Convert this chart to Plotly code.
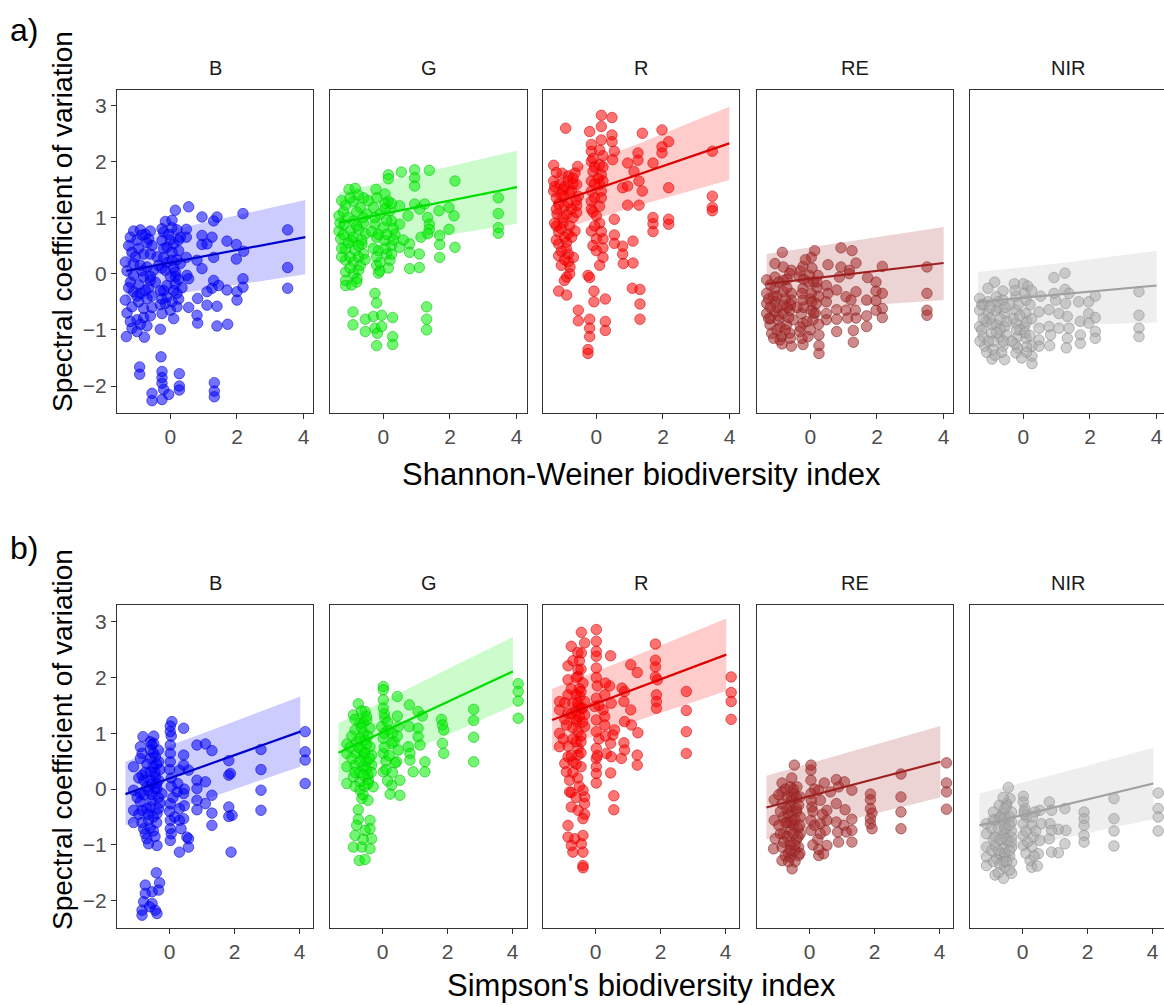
import plotly.graph_objects as go

bands = ["B", "G", "R", "RE", "NIR"]

# ---------------- Row a: Shannon-Weiner index (x, y) ----------------
shannon_B = [(0.15,1.13),(0.55,1.19),(0.95,1.01),(1.4,1.01),(1.3,0.94),(2.18,1.07),(-0.15,0.93),(-1.1,0.76),(-0.9,0.78),(-0.6,0.76),
    (-0.85,0.69),(-0.65,0.62),(-0.2,0.74),(0.05,0.82),(0.2,0.78),(0.48,0.79),(0.48,0.65),(0.95,0.68),(1.25,0.65),(0.95,0.52),
    (1.1,0.53),(1.7,0.58),(1.98,0.52),(2.2,0.4),(1.98,0.26),(3.52,0.78),(3.52,0.11),(3.52,-0.26),(-1.15,0.38),(-0.8,0.35),
    (-0.6,0.35),(-1.35,0.21),(-1.1,0.18),(-0.9,0.15),(-0.7,0.12),(-0.5,0.06),(-0.25,0.59),(-0.1,0.47),(0.1,0.53),(0.25,0.41),
    (-0.2,0.29),(0.05,0.24),(0.3,0.18),(0.48,0.29),(0.8,0.24),(1.3,0.29),(0.95,0.09),(-0.15,0.06),(0.15,0.03),(0.5,-0.03),
    (0.55,-0.09),(-1.1,-0.03),(-0.8,-0.06),(-0.6,-0.12),(1.3,-0.12),(1.45,-0.21),(1.25,-0.26),(1.7,-0.29),(2.0,-0.32),(2.18,-0.09),
    (2.18,-0.24),(1.1,-0.32),(-1.1,-0.32),(-1.35,-0.47),(-0.9,-0.35),(-0.7,-0.44),(-0.1,-0.21),(0.15,-0.18),(-0.1,-0.41),(0.2,-0.35),
    (-0.15,-0.53),(0.05,-0.5),(-1.15,-0.59),(-0.8,-0.62),(-0.8,-0.78),(-1.0,-0.82),(-0.7,-0.93),(-1.15,-0.97),(-1.32,-1.12),(-1.0,-1.03),
    (-0.78,-1.13),(-0.3,-0.99),(0.2,-0.59),(0.0,-0.65),(0.55,-0.6),(0.82,-0.44),(0.8,-0.74),(0.82,-0.88),(1.1,-0.56),(1.4,-0.58),
    (1.4,-0.93),(1.72,-0.9),(2.0,-0.47),(-0.25,-0.71),(-0.92,-1.66),(-0.92,-1.79),(-0.28,-1.48),(-0.25,-1.74),(-0.25,-1.85),(-0.25,-1.95),
    (-0.2,-2.06),(-0.05,-2.15),(-0.25,-2.24),(-0.55,-2.13),(-0.55,-2.26),(0.27,-1.78),(0.27,-2.0),(0.27,-2.07),(1.32,-1.94),(1.32,-2.09),
    (1.32,-2.19),(-1.25,0.5),(-0.95,0.45),(-0.7,0.55),(-0.4,0.3),(-1.2,-0.15),(-0.95,-0.2),(-0.65,-0.25),(-0.35,0.15),(-0.3,-0.3),
    (0.1,0.1),(0.15,-0.05),(0.3,0.65),(-0.05,0.7),(0.35,-0.25),(-1.3,-0.7),(-0.55,-0.6),(-0.3,-0.55),(0.1,-0.8),(-0.95,-0.5),(-0.45,-0.15),
    (-1.2,0.65),(-1.0,0.6),(-0.75,0.7),(-0.55,0.5),(-1.3,0.05),(-1.05,0.3),(-0.85,0.05),(-0.6,-0.05),(-1.25,-0.25),(-1.0,-0.4),
    (-0.75,-0.3),(-0.55,-0.4),(-1.2,-0.85),(-0.9,-0.9),(-0.6,-0.75),(-0.25,0.8),(0.0,0.6),(0.25,0.6),(-0.2,0.45),(0.05,0.38),
    (0.2,0.25),(-0.25,0.1),(0.0,-0.05),(0.25,-0.1),(-0.2,-0.3),(0.1,-0.3),(-0.25,-0.45),(0.25,-0.45),(0.05,0.95),(-0.1,0.2)]

shannon_G = [(0.15,1.76),(0.15,1.69),(0.54,1.81),(0.94,1.85),(0.94,1.71),(0.94,1.56),(1.38,1.84),(2.15,1.65),(-1.03,1.5),(-0.84,1.52),
    (-0.59,1.35),(-0.22,1.5),(0.05,1.42),(0.15,1.29),(-1.33,1.03),(-1.13,1.22),(-0.89,1.29),(-0.69,1.18),(-0.49,1.06),(-1.33,0.76),
    (-1.18,0.88),(-0.89,0.94),(-0.99,0.76),(-0.74,0.79),(-0.54,0.71),(-1.28,0.62),(-0.94,0.59),(-0.64,0.53),(-1.13,0.44),(-0.84,0.41),
    (-0.59,0.35),(-1.13,0.24),(-0.89,0.21),(-0.69,0.15),(-1.13,0.03),(-0.89,0.0),(-0.74,0.06),(-1.13,-0.12),(-1.13,-0.21),(-0.79,-0.09),
    (-0.3,1.18),(-0.1,1.06),(0.2,1.12),(0.49,1.21),(-0.25,0.88),(0.0,0.82),(0.25,0.94),(0.49,0.88),(-0.2,0.65),(0.05,0.59),
    (0.25,0.5),(0.49,0.47),(-0.15,0.41),(0.1,0.35),(-0.2,0.15),(-0.15,0.01),(0.2,0.24),(0.94,1.24),(1.24,1.24),(1.09,1.15),
    (0.74,1.03),(1.33,1.0),(1.38,0.88),(1.38,0.79),(1.33,0.71),(1.13,0.65),(0.79,0.53),(0.79,0.38),(1.08,0.35),(0.79,0.09),
    (1.08,0.11),(1.67,1.12),(1.97,1.18),(2.12,1.03),(1.97,0.79),(1.69,0.68),(1.69,0.52),(1.69,0.29),(2.15,0.47),(3.45,1.35),
    (3.45,1.07),(3.45,0.82),(3.45,0.72),(-0.25,-0.35),(-0.2,-0.52),(-0.91,-0.68),(-0.91,-0.91),(-0.54,-0.81),(-0.3,-0.76),(-0.05,-0.74),
    (0.28,-0.78),(-0.54,-1.03),(-0.25,-0.97),(-0.18,-1.06),(-0.05,-0.94),(-0.2,-1.28),(0.28,-1.12),(0.28,-1.26),(1.3,-0.59),(1.3,-0.81),
    (1.3,-1.0),(-1.2,1.1),(-0.8,1.1),(-1.05,0.55),(-0.75,0.3),(-0.95,-0.2),(-0.6,0.9),(-0.35,0.75),(-0.1,0.2),(0.35,0.7),
    (-0.3,0.45),(-1.25,0.3),(0.6,0.6),(0.05,1.25),(-0.45,1.3),
    (-1.25,1.3),(-1.0,1.35),(-0.75,1.4),(-1.3,0.9),(-1.05,1.0),(-0.8,0.85),(-0.6,1.0),(-1.2,0.7),(-0.9,0.65),(-0.65,0.6),
    (-1.25,0.45),(-1.0,0.3),(-0.75,0.5),(-0.55,0.25),(-1.0,0.1),(-0.8,-0.15),(-0.2,1.35),(0.05,1.15),(0.25,1.25),(-0.25,1.0),
    (0.1,0.95),(0.3,0.8),(-0.15,0.7),(0.1,0.7),(0.3,0.6),(-0.2,0.3),(0.05,0.45),(0.25,0.35),(-0.1,0.05),(0.15,0.1)]

shannon_R = [(-0.92,2.59),(0.15,2.82),(0.47,2.78),(-0.2,2.53),(0.15,2.62),(0.47,2.47),(0.47,2.35),(0.15,2.38),(1.38,2.5),(1.97,2.56),
    (2.17,2.35),(1.97,2.26),(1.97,2.15),(-0.15,2.18),(0.54,2.18),(0.49,2.03),(1.25,2.15),(1.25,2.02),(0.94,1.97),(1.7,1.97),
    (3.48,2.18),(-1.28,1.93),(-0.56,1.91),(-1.03,1.79),(-0.84,1.74),(-0.64,1.79),(-1.28,1.65),(-1.08,1.59),(-0.84,1.65),(-0.59,1.59),
    (-1.28,1.47),(-0.98,1.38),(-0.74,1.47),(-0.54,1.38),(-1.13,1.24),(-0.84,1.26),(-0.59,1.21),(-1.18,1.06),(-0.89,1.06),(-0.59,1.09),
    (-0.15,2.0),(0.1,1.94),(-0.1,1.82),(0.15,1.76),(-0.15,1.65),(0.1,1.59),(0.2,1.65),(-0.15,1.47),(0.15,1.47),(-0.15,1.29),
    (0.0,1.03),(-0.15,1.15),(0.79,1.53),(0.94,1.56),(1.13,1.82),(1.28,1.65),(1.38,1.47),(0.94,1.22),(1.28,1.22),(2.17,1.53),
    (1.7,1.0),(1.7,0.89),(1.7,0.75),(2.17,0.97),(2.17,0.88),(3.48,1.38),(3.48,1.18),(3.48,1.12),(0.54,0.97),(-1.13,0.74),
    (-0.84,0.71),(-0.64,0.76),(-1.13,0.53),(-0.89,0.56),(-0.74,0.65),(-1.13,0.32),(-0.84,0.35),(-0.84,0.21),(-0.79,0.12),(-0.69,0.29),
    (-0.15,0.76),(0.0,0.62),(0.2,0.62),(0.0,0.41),(0.2,0.46),(0.2,0.29),(0.54,0.69),(0.54,0.54),(0.79,0.49),(0.79,0.35),
    (0.81,0.18),(1.1,0.58),(1.1,0.19),(-0.96,-0.12),(-0.89,-0.06),(-1.13,-0.31),(-0.89,-0.38),(-0.25,-0.03),(-0.2,-0.07),(-0.07,-0.31),
    (-0.07,-0.5),(0.27,-0.45),(-0.54,-0.65),(-0.54,-0.84),(-0.2,-0.81),(-0.2,-0.97),(-0.2,-1.12),(-0.25,-1.35),(-0.25,-1.42),(0.27,-0.85),
    (0.27,-1.01),(1.08,-0.26),(1.31,-0.28),(1.31,-0.54),(1.31,-0.81),(-1.0,1.5),(-0.7,1.6),(-1.2,1.35),(-0.95,1.2),(-0.7,1.0),
    (-1.0,0.9),(-1.2,0.85),(-0.05,1.9),(0.05,1.7),(-0.05,1.35),(0.1,1.2),(0.2,2.1),(-0.9,0.45),(-1.05,0.15),
    (-1.2,1.8),(-0.95,1.55),(-0.7,1.7),(-1.25,1.55),(-1.05,1.4),(-0.8,1.45),(-0.6,1.3),(-1.2,1.15),(-1.0,1.0),(-0.75,1.15),
    (-1.25,0.9),(-1.05,0.8),(-0.8,0.85),(-1.2,0.6),(-0.95,0.65),(-1.05,0.4),(-0.95,0.25),(-0.8,0.0),(-0.15,2.3),(0.1,2.2),
    (-0.1,2.05),(0.2,1.9),(-0.05,1.6),(0.15,1.35),(-0.1,1.1),(0.1,0.9),(-0.05,0.85),(0.15,0.75),(-0.1,0.5),(0.1,0.15)]

shannon_RE = [(-0.84,0.38),(0.13,0.41),(0.92,0.46),(1.25,0.41),(0.03,0.29),(0.53,0.16),(1.37,0.19),(-1.06,0.18),(-0.81,0.12),(-0.57,0.06),
    (-0.22,0.13),(0.92,0.12),(1.17,0.06),(2.16,0.13),(3.5,0.12),(3.5,-0.35),(3.5,-0.65),(3.5,-0.74),(-1.31,-0.11),(-1.06,-0.06),
    (-0.81,-0.12),(-0.62,0.0),(-0.32,-0.06),(-0.02,-0.03),(0.23,-0.03),(0.87,-0.06),(1.17,0.0),(1.72,-0.07),(1.97,-0.15),(0.48,-0.21),
    (-1.31,-0.35),(-1.06,-0.26),(-0.81,-0.32),(-0.57,-0.35),(-0.22,-0.26),(0.03,-0.35),(0.53,-0.35),(0.79,-0.29),(1.07,-0.41),(1.37,-0.32),
    (1.97,-0.31),(2.16,-0.35),(-1.31,-0.53),(-1.06,-0.5),(-0.81,-0.56),(-0.57,-0.47),(-0.22,-0.47),(0.18,-0.53),(0.48,-0.5),(1.22,-0.47),
    (1.69,-0.47),(1.97,-0.48),(-1.31,-0.71),(-1.06,-0.68),(-0.81,-0.71),(-0.62,-0.65),(-0.27,-0.71),(0.03,-0.65),(0.48,-0.71),(0.79,-0.64),
    (1.07,-0.65),(1.35,-0.65),(2.16,-0.62),(1.97,-0.65),(-1.21,-0.91),(-0.96,-0.82),(-0.71,-0.91),(-0.52,-0.82),(-0.22,-0.88),(0.08,-0.82),
    (0.48,-0.82),(0.79,-0.81),(1.12,-0.79),(1.37,-0.79),(1.69,-0.75),(2.16,-0.78),(-1.16,-1.06),(-0.86,-1.12),(-0.62,-1.06),(-0.32,-1.03),
    (-0.07,-1.12),(0.79,-1.03),(1.29,-1.01),(1.69,-0.94),(-0.91,-1.18),(-0.57,-1.29),(-0.22,-1.26),(0.26,-1.09),(0.26,-1.28),(0.26,-1.42),
    (1.29,-1.22),(-1.1,-0.4),(-0.9,-0.95),(-0.7,-0.25),(-0.4,-0.6),(-0.1,-0.85),(0.1,-0.15),(-0.3,-0.95),(0.0,-0.45),(-1.2,-0.8),
    (-0.65,-0.78),(-0.2,-0.1),(0.15,-0.7),(-1.0,-0.6),
    (-1.2,-0.2),(-0.95,-0.15),(-0.7,-0.1),(-1.25,-0.45),(-1.0,-0.4),(-0.75,-0.45),(-0.6,-0.55),(-1.2,-0.6),(-0.95,-0.75),(-0.7,-0.6),
    (-1.25,-0.8),(-1.0,-1.0),(-0.75,-1.0),(-0.6,-1.15),(-0.85,-1.25),(-1.1,-1.15),(-0.3,0.05),(-0.05,-0.15),(0.2,-0.25),(-0.25,-0.35),
    (0.05,-0.5),(0.25,-0.4),(-0.2,-0.6),(0.1,-0.7),(0.25,-0.9),(-0.25,-1.15),(0.0,-1.0),(0.2,-0.15),(-0.15,0.25),(0.05,0.1)]

shannon_NIR = [(-0.86,-0.15),(-0.27,-0.18),(0.0,-0.18),(0.92,-0.07),(1.25,0.01),(-1.06,-0.26),(-0.61,-0.31),(0.13,-0.22),(0.52,-0.4),(0.92,-0.35),
    (1.25,-0.28),(1.37,-0.35),(2.16,-0.4),(3.47,-0.32),(3.47,-0.74),(3.47,-0.97),(3.47,-1.12),(-1.31,-0.44),(-1.06,-0.5),(-0.81,-0.41),
    (-0.61,-0.47),(-0.22,-0.4),(0.08,-0.47),(0.97,-0.47),(1.27,-0.53),(1.66,-0.5),(1.96,-0.5),(-1.31,-0.65),(-1.06,-0.71),(-0.81,-0.65),
    (-0.56,-0.71),(-0.22,-0.65),(0.08,-0.71),(0.47,-0.68),(0.77,-0.64),(1.07,-0.71),(1.32,-0.76),(1.96,-0.71),(2.16,-0.78),(-1.31,-0.94),
    (-1.11,-0.85),(-0.81,-0.91),(-0.56,-0.94),(-0.22,-0.88),(0.03,-0.94),(0.47,-0.97),(0.77,-0.94),(1.07,-0.97),(1.37,-0.97),(1.71,-0.85),
    (1.96,-0.88),(-1.21,-1.12),(-0.96,-1.06),(-0.71,-1.12),(-0.51,-1.09),(-0.17,-1.12),(0.08,-1.15),(0.47,-1.18),(0.82,-1.09),(1.32,-1.15),
    (1.71,-1.09),(2.16,-1.03),(2.16,-1.15),(-1.16,-1.29),(-0.91,-1.35),(-0.61,-1.29),(-0.17,-1.32),(0.26,-1.29),(0.47,-1.29),(0.79,-1.28),
    (1.29,-1.32),(1.71,-1.24),(-0.94,-1.52),(-0.56,-1.53),(-0.22,-1.41),(0.26,-1.47),(0.26,-1.6),(-1.0,-0.8),(-0.7,-1.0),(-0.9,-1.2),
    (-0.3,-0.8),(-0.1,-1.0),(-0.4,-0.55),(-1.2,-0.55),(0.1,-1.3),(-0.75,-0.6),(-0.35,-1.2),
    (-1.25,-0.55),(-1.0,-0.6),(-0.75,-0.5),(-1.2,-0.8),(-0.95,-0.9),(-0.7,-0.8),(-0.55,-0.6),(-1.25,-1.0),(-1.05,-1.2),(-0.8,-1.05),
    (-0.6,-1.2),(-1.1,-1.4),(-0.85,-1.45),(-0.65,-1.4),(-1.3,-1.2),(-0.5,-0.85),(-0.25,-0.3),(0.05,-0.35),(0.2,-0.55),(-0.15,-0.55),
    (0.1,-0.85),(0.25,-0.8),(-0.2,-1.0),(0.05,-1.05),(0.2,-1.1),(-0.25,-1.25),(0.1,-1.4),(-0.05,-1.5),(0.25,-0.3),(-0.1,-0.75)]

# ---------------- Row b: Simpson's index (x, y) ----------------
simpson_B = [(0.07,1.21),(0.02,1.13),(0.02,1.03),(0.43,1.09),(-0.82,0.94),(-0.49,0.95),(-0.49,0.82),(-0.9,0.76),(-0.85,0.64),(-0.59,0.7),
    (-0.44,0.58),(-0.34,0.49),(-0.59,0.55),(0.02,0.79),(0.02,0.64),(0.02,0.49),(0.43,0.61),(0.84,0.79),(1.1,0.81),(1.3,0.69),
    (0.43,0.43),(0.58,0.34),(0.3,0.34),(-1.11,0.4),(-0.85,0.25),(-0.59,0.31),(-0.44,0.22),(-0.8,0.16),(-0.54,0.1),(-0.34,0.16),
    (-1.11,-0.02),(-0.9,-0.08),(-0.65,-0.02),(-0.39,0.01),(-0.24,-0.08),(0.23,-0.05),(0.43,-0.08),(0.84,0.16),(0.84,0.01),(1.1,0.13),
    (1.3,-0.11),(1.82,0.51),(1.87,0.28),(1.82,0.25),(2.81,0.71),(2.81,0.35),(2.81,-0.02),(2.81,-0.38),(4.17,1.03),(4.17,0.67),
    (4.17,0.52),(4.17,0.1),(-1.11,-0.38),(-0.9,-0.23),(-0.85,-0.38),(-0.59,-0.32),(-0.39,-0.44),(-0.65,-0.56),(-1.11,-0.6),(-0.8,-0.71),
    (-0.75,-0.8),(-0.7,-0.89),(-0.39,-1.01),(-0.65,-0.98),(0.02,-0.26),(0.02,-0.56),(0.02,-0.71),(0.02,-0.92),(0.3,-0.56),(0.35,-0.71),
    (0.43,-0.53),(0.53,-0.86),(0.3,-1.13),(0.58,-1.04),(0.58,-0.89),(0.84,-0.2),(0.84,-0.37),(1.1,-0.26),(1.3,-0.43),(1.3,-0.65),
    (1.82,-0.32),(1.82,-0.49),(1.92,-0.47),(1.89,-1.13),(-0.41,-1.5),(-0.31,-1.68),(-0.75,-1.72),(-0.75,-1.87),(-0.54,-1.84),(-0.34,-1.81),
    (-0.8,-2.02),(-0.54,-2.05),(-0.44,-2.17),(-0.39,-2.23),(-0.85,-2.17),(-0.85,-2.26),(-0.62,-2.11),(-0.5,0.4),(-0.45,0.0),(-0.55,-0.2),
    (-0.4,-0.6),(-0.6,0.85),(-0.35,0.7),(-0.5,-0.75),(-0.3,-0.25),(-0.7,0.05),(-0.45,0.3),(-0.3,0.35),(0.05,0.2),(0.0,-0.4),(-0.65,-0.45),
    (-0.9,0.55),(-0.7,0.45),(-0.5,0.65),(-0.95,0.2),(-0.75,0.3),(-0.6,0.15),(-0.4,0.1),(-1.0,-0.15),(-0.8,-0.1),(-0.55,-0.1),
    (-0.35,-0.15),(-0.95,-0.45),(-0.7,-0.35),(-0.5,-0.5),(-0.35,-0.35),(-0.85,-0.6),(-0.6,-0.7),(-0.45,-0.85),(-0.55,0.8),(-0.4,0.45),
    (0.05,0.95),(0.0,0.35),(0.05,0.05),(0.1,-0.15),(0.25,0.1),(0.3,-0.35),(0.15,-0.5),(0.45,-0.3),(0.05,-0.8),(0.45,0.0)]

simpson_G = [(0.02,1.84),(0.02,1.78),(0.45,1.66),(-0.75,1.53),(-0.9,1.33),(-0.54,1.39),(0.02,1.6),(0.02,1.45),(0.82,1.51),(1.09,1.39),
    (1.22,1.31),(0.45,1.31),(0.07,1.27),(-0.7,1.18),(-0.49,1.24),(-0.85,1.06),(-0.59,1.0),(-0.39,1.09),(-0.03,1.12),(0.17,1.06),
    (0.48,1.12),(0.82,1.12),(1.09,1.09),(1.81,1.25),(1.84,1.15),(1.88,1.06),(2.8,1.43),(2.8,1.23),(2.8,0.93),(2.8,0.49),
    (4.17,1.89),(4.17,1.75),(4.17,1.58),(4.17,1.27),(-1.1,0.81),(-0.8,0.85),(-0.54,0.88),(-0.39,0.76),(0.02,0.91),(0.28,0.82),
    (0.48,0.7),(0.79,0.76),(1.09,0.94),(1.15,0.79),(1.84,0.82),(1.88,0.64),(-1.1,0.64),(-0.8,0.64),(-0.59,0.58),(-0.34,0.61),
    (0.02,0.64),(0.43,0.49),(0.84,0.64),(0.84,0.52),(1.3,0.49),(1.3,0.31),(0.94,0.31),(-1.1,0.4),(-0.85,0.43),(-0.59,0.4),
    (-0.34,0.43),(0.02,0.31),(0.38,0.47),(-1.1,0.1),(-0.9,0.22),(-0.7,0.13),(-0.44,0.16),(-0.29,0.04),(-0.7,-0.02),(-0.64,-0.17),
    (0.28,0.07),(0.53,0.16),(0.23,-0.09),(0.53,-0.11),(-0.75,-0.37),(-0.75,-0.54),(-0.39,-0.56),(-0.39,-0.71),(-0.85,-0.83),(-0.54,-0.74),
    (-0.34,-0.89),(-0.9,-1.04),(-0.64,-1.04),(-0.39,-1.07),(-0.72,-1.28),(-0.54,-1.26),(-0.65,0.7),(-0.6,1.2),(-0.5,0.5),(-0.45,0.95),
    (-0.7,0.3),(-0.55,0.05),(-0.65,1.4),(-0.45,0.25),(0.05,1.0),(0.1,0.5),(-0.6,-0.9),(-0.8,-0.65),
    (-0.85,1.25),(-0.65,1.1),(-0.5,1.3),(-0.95,0.95),(-0.7,0.9),(-0.5,0.8),(-1.0,0.75),(-0.75,0.75),(-0.55,0.65),(-0.4,0.55),
    (-0.95,0.55),(-0.7,0.5),(-0.5,0.35),(-0.35,0.3),(-0.85,0.3),(-0.6,0.25),(-0.45,0.1),(-0.85,0.05),(-0.6,-0.1),(-0.45,-0.2),
    (0.05,1.35),(0.15,1.2),(0.3,1.0),(0.05,0.75),(0.2,0.6),(0.35,0.85),(0.1,0.35),(0.3,0.3),(0.45,0.95),(0.15,0.15)]

simpson_R = [(-0.44,2.81),(0.02,2.86),(0.02,2.65),(-0.75,2.56),(-0.34,2.62),(-0.44,2.44),(0.02,2.47),(0.02,2.38),(0.46,2.39),(1.84,2.6),
    (1.84,2.31),(1.84,2.19),(-0.85,2.21),(-0.54,2.14),(0.02,2.17),(1.08,2.23),(1.28,2.09),(1.84,2.01),(1.9,1.96),(-0.85,1.96),
    (-0.54,2.02),(-0.39,1.9),(0.02,2.0),(0.43,1.85),(0.81,1.81),(0.89,1.75),(2.79,1.75),(4.17,2.01),(4.17,1.73),(4.17,1.57),
    (4.17,1.25),(-1.11,1.57),(-0.85,1.69),(-0.7,1.54),(-0.49,1.66),(-0.54,1.48),(-0.34,1.57),(0.02,1.63),(0.28,1.69),(0.48,1.54),
    (0.87,1.57),(1.87,1.69),(1.87,1.57),(1.87,1.45),(-1.11,1.42),(-0.85,1.36),(-0.59,1.39),(-0.34,1.33),(-0.03,1.48),(0.23,1.42),
    (0.28,1.3),(1.08,1.42),(2.79,1.41),(2.79,1.03),(2.79,0.64),(-0.9,1.15),(-0.59,1.21),(-0.34,1.12),(0.02,1.24),(0.28,1.15),
    (0.58,1.06),(0.89,1.21),(1.1,1.15),(1.3,1.01),(-1.11,1.0),(-0.54,1.03),(0.02,1.03),(0.53,0.97),(-1.11,0.76),(-0.85,0.77),
    (-0.54,0.73),(0.02,0.73),(0.33,0.64),(0.46,0.82),(0.87,0.83),(0.89,0.7),(-0.85,0.58),(-0.54,0.61),(0.02,0.55),(0.48,0.58),
    (0.79,0.55),(1.28,0.61),(1.28,0.43),(-0.95,0.46),(-0.7,0.49),(-0.9,0.31),(-0.8,0.16),(0.02,0.4),(0.02,0.28),(0.02,0.11),
    (0.46,0.29),(-0.8,-0.05),(-0.75,-0.06),(-0.39,-0.02),(-0.34,-0.14),(0.56,-0.12),(0.56,-0.37),(-0.75,-0.32),(-0.54,-0.38),(-0.34,-0.26),
    (-0.34,-0.45),(-0.39,-0.53),(-0.85,-0.65),(-0.85,-0.86),(-0.64,-0.89),(-0.39,-0.83),(-0.75,-1.01),(-0.44,-0.98),(-0.7,-1.13),(-0.39,-1.13),
    (-0.39,-1.37),(-0.39,-1.41),(-0.5,1.8),(-0.45,1.45),(-0.6,1.25),(-0.45,0.95),(-0.6,0.85),(-0.5,2.3),(-0.45,0.4),(-0.55,0.2),
    (-0.7,2.3),(-0.55,2.45),(-0.6,2.0),(-0.45,2.15),(-0.75,1.8),(-0.6,1.7),(-0.45,1.75),(-0.95,1.55),(-0.75,1.35),(-0.55,1.55),
    (-0.4,1.45),(-0.95,1.25),(-0.7,1.1),(-0.5,1.3),(-0.4,1.2),(-1.0,0.9),(-0.7,0.9),(-0.45,0.85),(-0.75,0.6),(-0.6,0.45),
    (-0.45,0.65),(-0.7,0.3),(-0.5,0.05),(-0.6,-0.15),(0.05,1.85),(0.1,1.5),(0.3,1.9),(0.1,0.9),(0.3,0.95),(0.05,0.6)]

simpson_RE = [(-0.47,0.43),(0.04,0.43),(0.04,0.34),(0.04,0.16),(-0.85,0.11),(-0.59,0.04),(-0.39,0.04),(0.45,0.11),(0.82,0.17),(1.07,0.13),
    (1.3,-0.02),(2.81,0.27),(4.21,0.47),(4.21,0.11),(4.21,-0.05),(4.21,-0.36),(-1.09,-0.19),(-0.85,-0.05),(-0.7,-0.14),(-0.49,-0.08),
    (-0.29,-0.14),(0.04,-0.08),(0.28,-0.02),(0.64,-0.05),(0.89,0.04),(1.87,-0.09),(1.87,-0.19),(2.81,-0.14),(2.81,-0.41),(2.81,-0.71),
    (-0.85,-0.26),(-0.59,-0.32),(-0.34,-0.29),(0.07,-0.32),(0.33,-0.2),(0.53,-0.38),(0.82,-0.26),(1.09,-0.37),(1.87,-0.35),(1.92,-0.43),
    (-1.09,-0.56),(-0.8,-0.5),(-0.54,-0.56),(-0.29,-0.5),(0.04,-0.56),(0.33,-0.62),(0.53,-0.56),(0.82,-0.59),(1.05,-0.65),(1.3,-0.54),
    (1.87,-0.53),(1.87,-0.62),(1.92,-0.71),(-1.06,-0.89),(-0.8,-0.8),(-0.59,-0.74),(-0.29,-0.8),(0.04,-0.74),(0.33,-0.8),(0.48,-0.74),
    (0.86,-0.77),(1.13,-0.77),(1.3,-0.74),(-1.11,-1.07),(-0.85,-1.04),(-0.59,-1.01),(-0.34,-1.04),(0.53,-1.01),(0.89,-0.95),(1.3,-0.95),
    (-0.85,-1.28),(-0.59,-1.22),(-0.34,-1.19),(-0.54,-1.43),(0.28,-1.19),(0.43,-1.16),(0.28,-1.08),(-0.65,-0.45),(-0.5,-0.65),(-0.4,-0.9),
    (-0.55,-0.2),(-0.45,-1.1),(-0.6,-0.95),(-0.4,-0.4),(-0.7,-0.6),(-0.5,0.0),(-0.35,-0.7),(-0.65,-1.15),(0.05,-0.2),(0.1,-1.0),
    (-0.95,-0.1),(-0.75,0.0),(-0.55,-0.15),(-0.4,-0.15),(-0.9,-0.4),(-0.7,-0.35),(-0.55,-0.4),(-0.4,-0.35),(-0.95,-0.65),(-0.75,-0.6),
    (-0.6,-0.6),(-0.45,-0.55),(-0.3,-0.65),(-0.9,-0.8),(-0.7,-0.85),(-0.5,-0.8),(-0.35,-0.85),(-0.8,-0.95),(-0.6,-1.1),(-0.45,-1.0),
    (-0.3,-1.15),(-0.75,-1.2),(-0.45,-1.3),(-0.65,-1.3),(-0.55,0.2),(0.1,-0.4),(0.15,-0.65),(0.25,-0.9),(0.4,-0.45),(0.15,0.0)]

simpson_NIR = [(-0.44,0.03),(-0.39,-0.17),(0.02,-0.13),(0.02,-0.23),(0.82,-0.23),(-0.72,-0.29),(-0.49,-0.26),(0.07,-0.35),(0.53,-0.38),(0.89,-0.38),
    (1.3,-0.35),(2.81,-0.17),(4.17,-0.07),(4.17,-0.35),(4.17,-0.5),(4.17,-0.75),(-0.9,-0.41),(-0.59,-0.44),(-0.34,-0.41),(0.12,-0.5),
    (0.38,-0.41),(1.89,-0.41),(1.89,-0.53),(2.81,-0.53),(-1.11,-0.62),(-0.85,-0.56),(-0.59,-0.62),(-0.34,-0.59),(0.02,-0.62),(0.28,-0.65),
    (0.58,-0.62),(0.84,-0.62),(1.1,-0.72),(1.33,-0.74),(1.89,-0.65),(2.81,-0.75),(-1.11,-0.8),(-0.85,-0.86),(-0.59,-0.8),(-0.34,-0.86),
    (0.02,-0.83),(0.33,-0.86),(0.53,-0.92),(0.82,-0.89),(0.89,-0.74),(1.3,-0.98),(1.89,-0.83),(1.89,-0.95),(2.81,-1.02),(-1.11,-1.04),
    (-0.85,-1.01),(-0.59,-1.07),(-0.34,-1.04),(0.02,-1.01),(0.28,-1.04),(0.48,-1.16),(0.89,-1.13),(1.1,-1.14),(-1.11,-1.22),(-0.8,-1.25),
    (-0.54,-1.22),(-0.34,-1.31),(0.23,-1.28),(0.28,-1.4),(0.45,-1.38),(-1.11,-1.37),(-0.85,-1.54),(-0.59,-1.6),(-0.34,-1.51),(-0.65,-0.5),
    (-0.5,-0.7),(-0.45,-0.95),(-0.7,-1.15),(-0.4,-1.2),(-0.55,-1.4),(-0.65,-0.9),(-0.5,-0.3),(-0.35,-0.75),(-0.6,-1.3),(0.05,-0.45),
    (-0.9,-0.55),(-0.7,-0.5),(-0.55,-0.5),(-0.4,-0.5),(-0.95,-0.7),(-0.75,-0.7),(-0.55,-0.7),(-0.4,-0.65),(-0.9,-0.9),(-0.7,-0.9),
    (-0.5,-0.9),(-0.35,-0.95),(-0.95,-1.1),(-0.75,-1.1),(-0.55,-1.15),(-0.4,-1.1),(-0.9,-1.3),(-0.7,-1.35),(-0.5,-1.3),(-0.4,-1.45),
    (-0.75,-1.5),(-0.55,-0.35),(-0.6,-0.15),(0.1,-0.75),(0.15,-0.95),(0.3,-0.5),(0.1,-1.15),(0.35,-1.2),(0.05,-0.4),(0.4,-0.75)]

# ---------------- Fitted lines (endpoints) and confidence ribbons (x, lo, hi) ----------------
shannon_fit = {
    "B":   [(-1.32, 0.05), (4.05, 0.65)],
    "G":   [(-1.33, 0.91), (4.01, 1.54)],
    "R":   [(-1.28, 1.25), (3.99, 2.32)],
    "RE":  [(-1.31, -0.18), (4.00, 0.19)],
    "NIR": [(-1.36, -0.50), (4.00, -0.21)],
}
shannon_ci = {
    "B":   [(-1.32, -0.50, 0.60), (1.3, -0.26, 0.94), (4.05, -0.01, 1.31)],
    "G":   [(-1.33, 0.37, 1.45), (1.3, 0.62, 1.82), (4.01, 0.89, 2.19)],
    "R":   [(-1.28, 0.75, 1.75), (1.3, 1.22, 2.32), (3.99, 1.67, 2.97)],
    "RE":  [(-1.31, -0.71, 0.35), (1.3, -0.58, 0.58), (4.00, -0.47, 0.83)],
    "NIR": [(-1.36, -1.03, 0.03), (1.3, -0.92, 0.20), (4.00, -0.87, 0.41)],
}
simpson_fit = {
    "B":   [(-1.36, -0.09), (4.02, 1.03)],
    "G":   [(-1.36, 0.65), (4.01, 2.11)],
    "R":   [(-1.34, 1.24), (4.02, 2.41)],
    "RE":  [(-1.33, -0.33), (4.02, 0.49)],
    "NIR": [(-1.33, -0.65), (4.02, 0.10)],
}
simpson_ci = {
    "B":   [(-1.36, -0.65, 0.49), (1.3, -0.14, 1.06), (4.02, 0.40, 1.66)],
    "G":   [(-1.36, 0.12, 1.18), (1.3, 0.79, 1.95), (4.01, 1.49, 2.73)],
    "R":   [(-1.34, 0.68, 1.80), (1.3, 1.23, 2.41), (4.02, 1.76, 3.06)],
    "RE":  [(-1.33, -0.90, 0.24), (1.3, -0.54, 0.68), (4.02, -0.15, 1.13)],
    "NIR": [(-1.33, -1.22, -0.08), (1.3, -0.87, 0.31), (4.02, -0.54, 0.74)],
}

x_ticks = [0, 2, 4]
y_ticks = [-2, -1, 0, 1, 2, 3]

# ---------------- Styling ----------------
rgb = {"B": (0, 0, 255), "G": (0, 238, 0), "R": (255, 0, 0), "RE": (165, 42, 42), "NIR": (169, 169, 169)}
line_col = {"B": "#0000CD", "G": "#00DD00", "R": "#DD0000", "RE": "#9E2020", "NIR": "#A0A0A0"}
FONT = "Liberation Sans, Arial, sans-serif"
W, H = 1164, 1005

col_px = [(117, 313), (330, 527), (543, 739), (757, 953), (970, 1164)]
row_px = {"a": (90, 413), "b": (605, 928)}
xscale = {"a": (-1.60, 33.33), "b": (-1.62, 32.5)}   # (lower bound, px per unit)
yrange = {"a": [-2.48, 3.27], "b": [-2.49, 3.30]}

rows = [("a", [shannon_B, shannon_G, shannon_R, shannon_RE, shannon_NIR], shannon_fit, shannon_ci),
        ("b", [simpson_B, simpson_G, simpson_R, simpson_RE, simpson_NIR], simpson_fit, simpson_ci)]

fig = go.Figure()
layout = {}
annotations = []
k = 0
for r, (rowname, pts_list, fits, cis) in enumerate(rows):
    top, bot = row_px[rowname]
    for c, band in enumerate(bands):
        k += 1
        xa = "x" if k == 1 else f"x{k}"
        ya = "y" if k == 1 else f"y{k}"
        R_, G_, B_ = rgb[band]
        pts = pts_list[c]
        fig.add_trace(go.Scatter(
            x=[p[0] for p in pts], y=[p[1] for p in pts], mode="markers", xaxis=xa, yaxis=ya,
            marker=dict(size=10.5, color=f"rgba({R_},{G_},{B_},0.55)",
                        line=dict(width=1, color=f"rgba({int(R_*0.8)},{int(G_*0.8)},{int(B_*0.8)},0.55)")),
            showlegend=False, hoverinfo="skip"))
        ci = cis[band]
        cx = [p[0] for p in ci] + [p[0] for p in ci][::-1]
        cy = [p[2] for p in ci] + [p[1] for p in ci][::-1]
        fig.add_trace(go.Scatter(x=cx, y=cy, mode="lines", fill="toself", xaxis=xa, yaxis=ya,
                                 fillcolor=f"rgba({R_},{G_},{B_},0.2)", line=dict(width=0),
                                 showlegend=False, hoverinfo="skip"))
        fit = fits[band]
        fig.add_trace(go.Scatter(x=[p[0] for p in fit], y=[p[1] for p in fit], mode="lines",
                                 xaxis=xa, yaxis=ya, line=dict(color=line_col[band], width=2.2),
                                 showlegend=False, hoverinfo="skip"))

        x0, x1 = col_px[c]
        lo, ppu = xscale[rowname]
        layout["xaxis" if k == 1 else f"xaxis{k}"] = dict(
            domain=[x0 / W, x1 / W], anchor=ya, range=[lo, lo + (x1 - x0) / ppu],
            tickmode="array", tickvals=x_ticks, ticks="outside", ticklen=5, tickwidth=1.3, tickcolor="#333333",
            tickfont=dict(size=21, color="#4D4D4D", family=FONT), showline=True, mirror=True,
            linecolor="#333333", linewidth=1, showgrid=False, zeroline=False, fixedrange=True)
        first = (c == 0)
        layout["yaxis" if k == 1 else f"yaxis{k}"] = dict(
            domain=[1 - bot / H, 1 - top / H], anchor=xa, range=yrange[rowname],
            tickmode="array", tickvals=y_ticks, ticks="outside" if first else "", ticklen=5, tickwidth=1.3,
            tickcolor="#333333", showticklabels=first,
            tickfont=dict(size=21, color="#4D4D4D", family=FONT), showline=True,
            mirror=(band != "NIR"), linecolor="#333333", linewidth=1, showgrid=False, zeroline=False, fixedrange=True)
        annotations.append(dict(text=band, x=(x0 + (1166 if band == "NIR" else x1)) / 2 / W,
                                y=1 - (top - 22) / H, xref="paper", yref="paper", showarrow=False,
                                xanchor="center", yanchor="middle",
                                font=dict(size=20, color="#1A1A1A", family=FONT)))

# Panel letters and axis titles
common = dict(xref="paper", yref="paper", showarrow=False, yanchor="middle")
annotations += [
    dict(text="a)", x=8 / W, y=1 - 30 / H, xanchor="left", font=dict(size=32, color="#000000", family=FONT), **common),
    dict(text="b)", x=8 / W, y=1 - 548 / H, xanchor="left", font=dict(size=32, color="#000000", family=FONT), **common),
    dict(text="Spectral coefficient of variation", x=62 / W, y=1 - 222 / H, xanchor="center", textangle=-90,
         font=dict(size=28, color="#000000", family=FONT), **common),
    dict(text="Spectral coefficient of variation", x=62 / W, y=1 - 740 / H, xanchor="center", textangle=-90,
         font=dict(size=28, color="#000000", family=FONT), **common),
    dict(text="Shannon-Weiner biodiversity index", x=641 / W, y=1 - 475 / H, xanchor="center",
         font=dict(size=31, color="#000000", family=FONT), **common),
    dict(text="Simpson's biodiversity index", x=641 / W, y=1 - 985 / H, xanchor="center",
         font=dict(size=31, color="#000000", family=FONT), **common),
]

fig.update_layout(**layout)
fig.update_layout(width=W, height=H, margin=dict(l=0, r=0, t=0, b=0), plot_bgcolor="white",
                  paper_bgcolor="white", annotations=annotations, showlegend=False)
fig.write_html("out.html", config={"displayModeBar": False},
               post_script="document.body.style.margin='0px';document.body.style.overflow='hidden';")
